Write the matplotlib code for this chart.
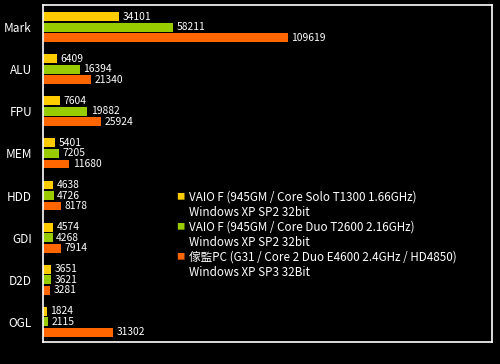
import numpy as np
import matplotlib
matplotlib.use('Agg')
import matplotlib.pyplot as plt

plt.rcParams['font.family'] = ['Noto Sans CJK JP', 'DejaVu Sans']

# Dados do benchmark
categorias = ['Mark', 'ALU', 'FPU', 'MEM', 'HDD', 'GDI', 'D2D', 'OGL']
vaio_solo = [34101, 6409, 7604, 5401, 4638, 4574, 3651, 1824]
vaio_duo = [58211, 16394, 19882, 7205, 4726, 4268, 3621, 2115]
pc_g31 = [109619, 21340, 25924, 11680, 8178, 7914, 3281, 31302]

legendas = [
    ('VAIO F (945GM / Core Solo T1300 1.66GHz)', 'Windows XP SP2 32bit'),
    ('VAIO F (945GM / Core Duo T2600 2.16GHz)', 'Windows XP SP2 32bit'),
    ('傢監PC (G31 / Core 2 Duo E4600 2.4GHz / HD4850)', 'Windows XP SP3 32Bit'),
]
cores = ['#FFCC00', '#99CC00', '#FF6600']

fig = plt.figure(figsize=(5.0, 3.64), dpi=100, facecolor='black')
ax = fig.add_axes([0.086, 0.060, 0.898, 0.926], facecolor='black')

y = np.arange(len(categorias))
altura = 0.21
passo = 0.25
series = [vaio_solo, vaio_duo, pc_g31]

for k, (valores, cor) in enumerate(zip(series, cores)):
    pos = y + (k - 1) * passo
    ax.barh(pos, valores, height=altura, color=cor)
    for p, v in zip(pos, valores):
        ax.annotate(str(v), (v, p), xytext=(2.5, 0), textcoords='offset points',
                    ha='left', va='center', color='white', fontsize=7.4)

ax.set_xlim(0, 201000)
ax.set_ylim(7.483, -0.524)
ax.set_xticks([])
ax.set_yticks(y)
ax.set_yticklabels(categorias, color='white', fontsize=8.5)
ax.tick_params(axis='y', length=0, pad=8)
for lado in ax.spines.values():
    lado.set_color('white')
    lado.set_linewidth(1.2)

# Legenda manual
y0 = 197
for i, ((l1, l2), cor) in enumerate(zip(legendas, cores)):
    yl = y0 + i * 30
    fig.text(176 / 500, 1 - yl / 364, '■', color=cor, fontsize=6,
             ha='left', va='center')
    fig.text(189 / 500, 1 - yl / 364, l1, color='white', fontsize=8.4,
             ha='left', va='center')
    fig.text(189 / 500, 1 - (yl + 15) / 364, l2, color='white', fontsize=8.4,
             ha='left', va='center')

fig.savefig('out.png', dpi=100, facecolor='black')
